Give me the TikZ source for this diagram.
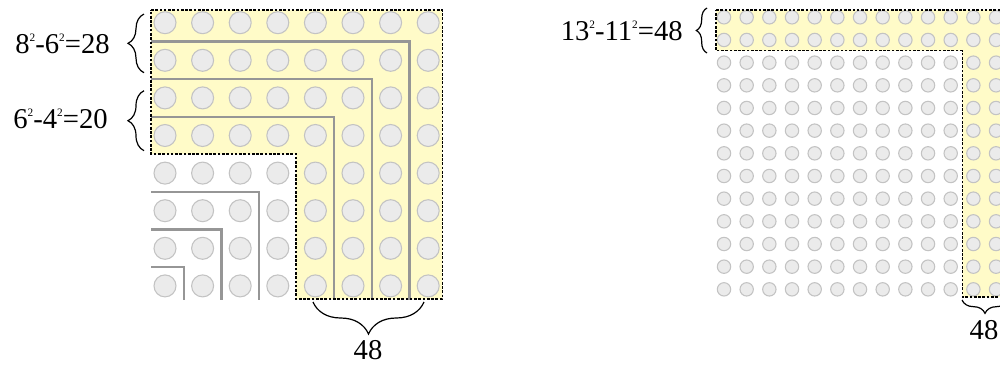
\documentclass[tikz,border=0pt]{standalone}
\usepackage{fontspec}
\setmainfont{Liberation Serif}
\usepackage{tikz}
\usetikzlibrary{decorations.pathreplacing,positioning}
\definecolor{BandYellow}{RGB}{255,251,200}
\definecolor{DotFill}{RGB}{235,235,235}
\definecolor{DotEdge}{RGB}{195,195,195}
\definecolor{StepGray}{RGB}{150,150,150}
\newcommand{\sqr}[1]{#1\raisebox{0.4em}{\fontsize{8.5}{9}\selectfont 2}}

\begin{document}
\begin{tikzpicture}[x=0.75pt, y=-0.75pt,
    dot/.style={fill=DotFill, draw=DotEdge, line width=0.8pt},
    band/.style={fill=BandYellow},
    border/.style={draw=black, line width=1pt, dash pattern=on 2pt off 1.2pt},
    stepline/.style={draw=StepGray, line width=1.8pt},
    curly/.style={decorate, decoration={brace, amplitude=#1}, line width=0.9pt},
    lbl/.style={font=\fontsize{21.5}{26}\selectfont, inner sep=0pt}]
      \clip (0,0) rectangle (1000,365);
      % left square, 8 x 8
      \fill[band] (151,10)--(442.3,10)--(442.3,299)--(296,299)--(296,154)--(151,154)--cycle;
      \foreach \i in {0,...,7}
        \foreach \j in {0,...,7}
          \draw[dot] (165+37.6*\i, 22.7+37.6*\j) circle (11);
      \foreach \k in {1,2,3,5,6,7}
        \draw[stepline] (151, 22.7+37.6*\k-18.8) -- (165+37.6*7.5-37.6*\k, 22.7+37.6*\k-18.8) -- (165+37.6*7.5-37.6*\k, 300);
      \draw[border] (151,10)--(442.3,10)--(442.3,299)--(296,299)--(296,154)--(151,154)--cycle;
      % right square, 13 x 13
      \fill[band] (716,10)--(1010,10)--(1010,297)--(962.3,297)--(962.3,50.7)--(716,50.7)--cycle;
      \foreach \i in {0,...,12}
        \foreach \j in {0,...,12}
          \draw[dot] (724+22.67*\i, 17.3+22.67*\j) circle (6.7);
      \draw[border] (716,10)--(1010,10)--(1010,297)--(962.3,297)--(962.3,50.7)--(716,50.7)--cycle;
      % braces and labels
      \coordinate (bA1) at (144,72.7); \coordinate (bA2) at (144,14);
      \coordinate (bB1) at (144,150.7); \coordinate (bB2) at (144,90.7);
      \coordinate (bC1) at (424,302); \coordinate (bC2) at (313,302);
      \coordinate (bD1) at (707,53); \coordinate (bD2) at (707,8);
      \coordinate (bE1) at (1008,300); \coordinate (bE2) at (962,300);
      \draw[curly=12pt] (bA1) -- (bA2);
      \draw[curly=12pt] (bB1) -- (bB2);
      \draw[curly=24pt] (bC1) -- (bC2);
      \draw[curly=8pt] (bD1) -- (bD2);
      \draw[curly=10pt] (bE1) -- (bE2);
      \node[lbl, anchor=base east] (diffA) at (110,53.3) {\sqr{8}-\sqr{6}=28};
      \node[lbl, anchor=base east] (diffB) at (108,128.3) {\sqr{6}-\sqr{4}=20};
      \node[lbl, anchor=base] (sumL) at (368,359.3) {48};
      \node[lbl, anchor=base east] (diffC) at (683,40) {\sqr{13}-\sqr{11}=48};
      \node[lbl, anchor=base] (sumR) at (984,339.3) {48};
    \end{tikzpicture}
\end{document}
